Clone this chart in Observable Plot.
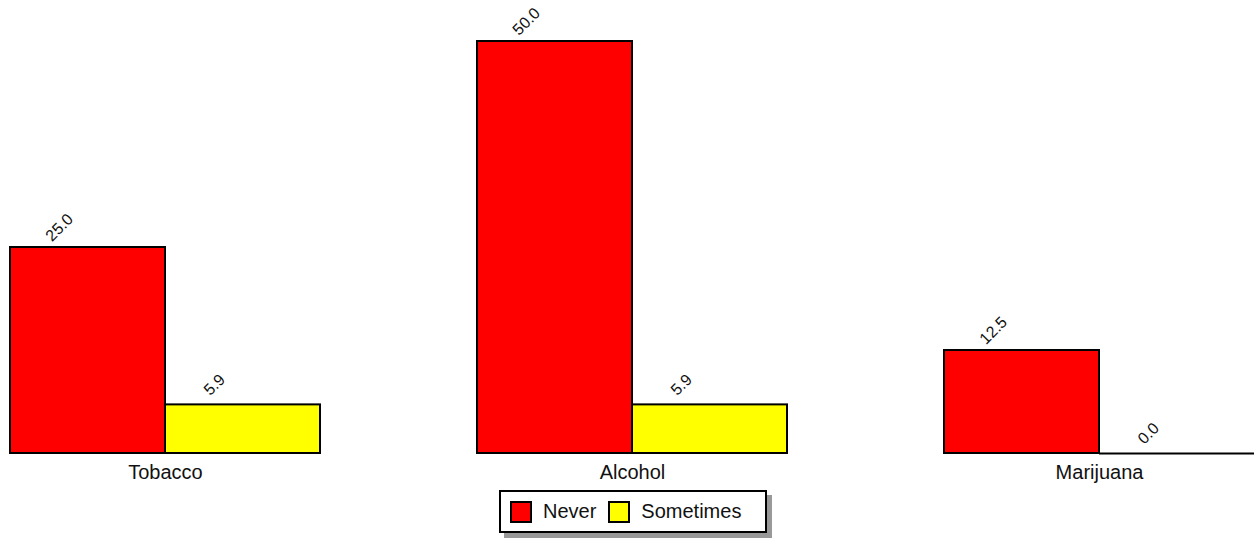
<!DOCTYPE html>
<html>
<head>
<meta charset="utf-8">
<script src="https://cdn.jsdelivr.net/npm/d3@7"></script>
<script src="https://cdn.jsdelivr.net/npm/@observablehq/plot@0.6"></script>
<style>
  html, body { margin: 0; padding: 0; background: #fff; }
  #wrap { position: relative; width: 1254px; height: 538px; font-family: "Liberation Sans", Arial, sans-serif; }
  #legend {
    position: absolute; left: 499px; top: 490px; width: 268px; height: 43px;
    box-sizing: border-box; border: 2px solid #000; background: #fff;
    box-shadow: 5px 5px 0 #999;
    display: flex; align-items: center; padding-left: 9px;
    font-size: 20px; color: #111;
  }
  .sw { width: 22px; height: 22px; box-sizing: border-box; border: 2px solid #000; margin-right: 11px; }
  .item { display: flex; align-items: center; margin-right: 12px; }
</style>
</head>
<body>
<div id="wrap"><div id="chart"></div><div id="legend"></div></div>
<script>
const categories = ["Tobacco", "Alcohol", "Marijuana"];
const seriesNames = ["Never", "Sometimes"];
const neverValues = [25.0, 50.0, 12.5];
const sometimesValues = [5.9, 5.9, 0.0];
const seriesColors = ["#ff0000", "#ffff00"];

const data = [];
categories.forEach((c, i) => {
  data.push({category: c, series: seriesNames[0], value: neverValues[i]});
  data.push({category: c, series: seriesNames[1], value: sometimesValues[i]});
});

const chart = Plot.plot({
  width: 1254,
  height: 488,
  marginLeft: 10,
  marginRight: 0,
  marginTop: 41,
  marginBottom: 35,
  style: {fontFamily: "'Liberation Sans', Arial, sans-serif", background: "#fff"},
  fx: {domain: categories, paddingInner: 0.3362, paddingOuter: 0, label: null},
  x: {domain: seriesNames, padding: 0, axis: null},
  y: {domain: [0, 50], axis: null},
  color: {domain: seriesNames, range: seriesColors},
  marks: [
    Plot.barY(data, {fx: "category", x: "series", y: "value", fill: "series", stroke: "#000", strokeWidth: 2}),
    Plot.tickY(data.filter(d => d.value === 0), {fx: "category", x: "series", y: "value", stroke: "#000", strokeWidth: 2}),
    Plot.text(data, {fx: "category", x: "series", y: "value", text: d => d.value.toFixed(1),
      rotate: -45, textAnchor: "middle", lineAnchor: "middle", dx: -28.5, dy: -20,
      fontSize: 16, fill: "#111"}),
    Plot.axisFx({anchor: "bottom", tickSize: 0, tickPadding: 11, fontSize: 20, label: null, color: "#111"})
  ]
});
document.getElementById("chart").appendChild(chart);

const legend = document.getElementById("legend");
seriesNames.forEach((s, i) => {
  const item = document.createElement("div");
  item.className = "item";
  const sw = document.createElement("div");
  sw.className = "sw";
  sw.style.background = seriesColors[i];
  const t = document.createElement("span");
  t.textContent = s;
  item.appendChild(sw);
  item.appendChild(t);
  legend.appendChild(item);
});
</script>
</body>
</html>
